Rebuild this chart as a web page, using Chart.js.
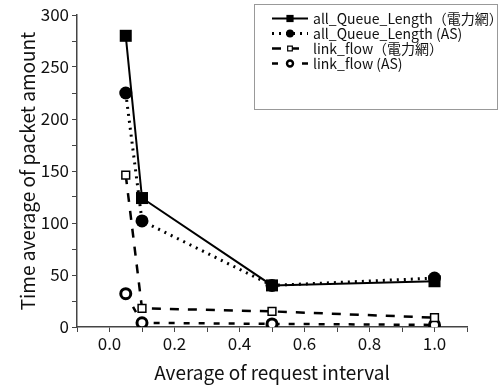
<!DOCTYPE html>
<html><head><meta charset="utf-8">
<script src="https://cdn.jsdelivr.net/npm/chart.js@4.4.1/dist/chart.umd.min.js"></script>
<style>html,body{margin:0;padding:0;background:#fff;}#wrap{width:501px;height:392px;}</style>
</head><body><div id="wrap"><canvas id="c" width="501" height="392"></canvas></div>
<script>
const xValues = [0.05, 0.1, 0.5, 1.0];
const queuePower = [280, 124, 40, 44];
const queueAS = [225, 102, 40, 47];
const linkPower = [146, 18, 15, 9];
const linkAS = [32, 4, 3, 2];
const seriesNames = ['all_Queue_Length（電力網）', 'all_Queue_Length (AS)', 'link_flow（電力網）', 'link_flow (AS)'];
const xTitle = 'Average of request interval';
const yTitle = 'Time average of packet amount';

const FONT = "'Noto Sans CJK JP','Noto Sans',sans-serif";
const pts = arr => xValues.map((x, i) => ({x: x, y: arr[i]}));

const datasets = [
  {label: seriesNames[0], data: pts(queuePower), borderColor:'#000', backgroundColor:'#000', borderWidth:2,
   pointStyle:'rect', pointRadius:8.5, pointBorderWidth:0, pointBackgroundColor:'#000'},
  {label: seriesNames[1], data: pts(queueAS), borderColor:'#000', backgroundColor:'#000', borderWidth:3, borderDash:[2,5],
   pointStyle:'circle', pointRadius:6.5, pointBorderWidth:0, pointBackgroundColor:'#000'},
  {label: seriesNames[2], data: pts(linkPower), borderColor:'#000', backgroundColor:'#fff', borderWidth:2.5, borderDash:[9,9],
   pointStyle:'rect', pointRadius:5.5, pointBorderWidth:1.5, pointBackgroundColor:'#fff', pointBorderColor:'#000'},
  {label: seriesNames[3], data: pts(linkAS), borderColor:'#000', backgroundColor:'#fff', borderWidth:2.5, borderDash:[6,9],
   pointStyle:'circle', pointRadius:5, pointBorderWidth:3, pointBackgroundColor:'#fff', pointBorderColor:'#000'}
];

const legendPlugin = {
  id: 'boxLegend',
  afterDraw(chart) {
    const ctx = chart.ctx;
    ctx.save();
    ctx.fillStyle = '#fff';
    ctx.fillRect(254.5, 4.5, 243, 105);
    ctx.strokeStyle = '#999';
    ctx.lineWidth = 1;
    ctx.strokeRect(254.5, 4.5, 243, 105);
    const rows = [18.5, 33.5, 48.5, 63.5];
    chart.data.datasets.forEach((ds, i) => {
      const y = rows[i];
      ctx.save();
      ctx.strokeStyle = '#000';
      ctx.lineWidth = ds.borderWidth;
      ctx.setLineDash(ds.borderDash || []);
      ctx.beginPath(); ctx.moveTo(272, y); ctx.lineTo(308, y); ctx.stroke();
      ctx.setLineDash([]);
      const r = ds.pointRadius * 0.6;
      ctx.fillStyle = ds.pointBackgroundColor;
      ctx.strokeStyle = '#000';
      ctx.beginPath();
      if (ds.pointStyle === 'rect') { const s = r * Math.SQRT1_2; ctx.rect(290 - s, y - s, 2*s, 2*s); }
      else { ctx.arc(290, y, r, 0, Math.PI*2); }
      ctx.fill();
      if (ds.pointBorderWidth) { ctx.lineWidth = ds.pointBorderWidth * 0.8; ctx.stroke(); }
      ctx.restore();
      ctx.fillStyle = '#111';
      ctx.font = "14px " + FONT;
      ctx.textBaseline = 'middle';
      ctx.fillText(ds.label, 313, y);
    });
    ctx.restore();
  }
};

new Chart(document.getElementById('c'), {
  type: 'line',
  data: {datasets},
  plugins: [legendPlugin],
  options: {
    responsive: false, animation: false,
    layout: {padding: {top: 15, right: 34, left: 0, bottom: 4}},
    plugins: {legend: {display: false}, tooltip: {enabled: false}},
    scales: {
      x: {type: 'linear', min: -0.1, max: 1.1,
        grid: {drawOnChartArea: false, tickLength: 5, color: '#444'},
        border: {color: '#444', width: 1.5},
        ticks: {stepSize: 0.1, color: '#111', font: {size: 17, family: FONT}, padding: 1, maxRotation: 0, autoSkip: false,
          callback: v => { const k = Math.round(v * 10); return (k >= 0 && k <= 10 && k % 2 === 0) ? (k/10).toFixed(1) : ''; }},
        title: {display: true, text: xTitle, color: '#111', font: {size: 19, family: FONT}, padding: {top: 4, bottom: 4}},
        afterFit: s => { s.height = 61; }
      },
      y: {min: 0, max: 300,
        grid: {drawOnChartArea: false, tickLength: 5, color: '#444'},
        border: {color: '#444', width: 1.5},
        ticks: {stepSize: 25, color: '#111', font: {size: 17, family: FONT}, padding: 3, autoSkip: false,
          callback: v => (v % 50 === 0 ? String(v) : '')},
        title: {display: true, text: yTitle, color: '#111', font: {size: 19, family: FONT}, padding: {top: 16, bottom: 0}},
        afterFit: s => { s.width = 77; }
      }
    }
  }
});
</script></body></html>
